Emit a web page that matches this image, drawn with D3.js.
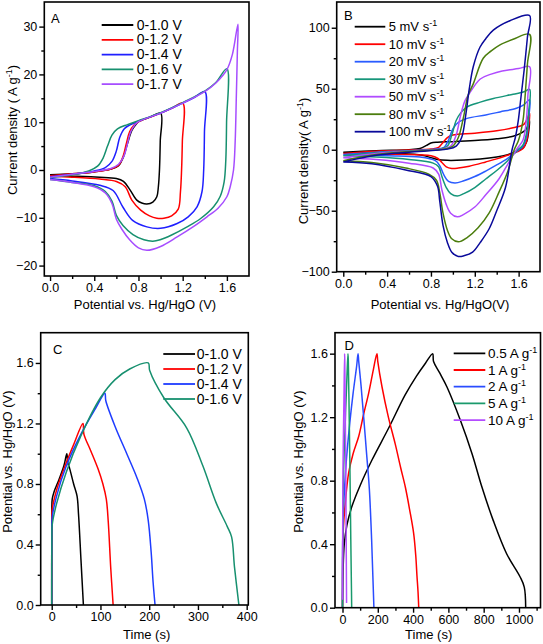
<!DOCTYPE html>
<html><head><meta charset="utf-8">
<script src="https://cdn.jsdelivr.net/npm/d3@7"></script>
<style>body{margin:0;background:#fff}svg{display:block}</style>
</head><body>
<svg id="chart" width="543" height="644"></svg>
<script>
// ---------------- DATA ----------------
// Panel A: CV curves at different potential windows (V, A g-1)
const aLabels = ["0-1.0 V","0-1.2 V","0-1.4 V","0-1.6 V","0-1.7 V"];
const aXTicks = [0,0.4,0.8,1.2,1.6];
const aYTicks = [-20,-10,0,10,20,30];
const cvA10 = [[0,-1.0],[0.2,-0.8],[0.4,-0.4],[0.55,0.2],[0.62,0.9],[0.66,2.5],[0.7,5.5],[0.74,8.3],[0.78,9.6],[0.8,10.1],[0.9,11],[1.0,11.9],
  [0.997,6],[0.99,0],[0.98,-3.5],[0.966,-5.6],[0.93,-6.7],[0.876,-7.1],[0.83,-6.9],[0.785,-6.3],[0.725,-4.2],[0.664,-2.4],[0.6,-1.8],[0.45,-1.5],[0.2,-1.3],[0,-1.2]];
const cvA12 = [[0,-1.2],[0.2,-0.8],[0.4,-0.4],[0.55,0.2],[0.62,1.0],[0.66,2.8],[0.69,5.5],[0.72,8],[0.76,9.4],[0.8,10.1],[0.9,11],[1.0,11.9],[1.1,12.9],[1.2,14],
  [1.197,6],[1.19,0],[1.18,-4.5],[1.16,-8.2],[1.1,-9.6],[1.03,-10.1],[0.966,-10.1],[0.9,-9.6],[0.82,-8.4],[0.74,-6.3],[0.68,-3.5],[0.6,-2.4],[0.45,-1.9],[0.2,-1.5],[0,-1.3]];
const cvA14 = [[0,-1.4],[0.2,-0.9],[0.4,-0.2],[0.5,0.5],[0.56,1.8],[0.6,4],[0.63,6.8],[0.67,8.6],[0.72,9.4],[0.8,10.2],[1.0,11.9],[1.2,14],[1.3,15.1],[1.4,16.4],
  [1.397,8],[1.39,0],[1.375,-4.5],[1.33,-7.7],[1.25,-9.8],[1.15,-11.2],[1.0,-12.2],[0.876,-11.9],[0.75,-10.6],[0.66,-7.8],[0.57,-4.3],[0.45,-3.2],[0.2,-2.3],[0,-1.8]];
const cvA16 = [[0,-1.6],[0.2,-1.0],[0.35,-0.2],[0.43,0.8],[0.48,2.5],[0.52,5],[0.56,7.3],[0.61,8.6],[0.7,9.5],[0.8,10.3],[1.0,12],[1.2,14.1],[1.4,16.5],[1.5,18.3],[1.6,21.2],
  [1.597,10],[1.59,2],[1.575,-2.5],[1.54,-5.5],[1.48,-7.7],[1.36,-10.2],[1.24,-11.9],[1.1,-13.6],[0.996,-14.6],[0.93,-14.9],[0.85,-14.6],[0.75,-13.5],[0.66,-11.6],[0.6,-9.5],[0.56,-6.5],[0.5,-4.5],[0.4,-3.3],[0.2,-2.6],[0,-2.0]];
const cvA17 = [[0,-1.5],[0.2,-0.9],[0.4,-0.3],[0.55,0.3],[0.62,1.2],[0.67,3],[0.7,5.5],[0.73,8],[0.77,9.5],[0.8,10.1],[1.0,11.9],[1.2,14],[1.4,16.4],[1.5,18.2],[1.6,21],[1.65,24.2],[1.7,30.5],
  [1.695,25],[1.685,15],[1.675,6],[1.66,0],[1.63,-3.5],[1.6,-5.6],[1.52,-8],[1.42,-9.8],[1.3,-11.8],[1.15,-14],[1.0,-16],[0.876,-16.8],[0.8,-16.3],[0.72,-14.6],[0.65,-12.4],[0.6,-10.3],[0.56,-7],[0.5,-4.8],[0.4,-3.5],[0.2,-2.6],[0,-2.0]];

// Panel B: CV curves at different scan rates
const bLabels = ["5 mV s","10 mV s","20 mV s","30 mV s","50 mV s","80 mV s","100 mV s"];
const bXTicks = [0,0.4,0.8,1.2,1.6];
const bYTicks = [-100,-50,0,50,100];
const cvB5 = [[0,-2],[0.3,-0.8],[0.6,0],[0.7,1],[0.76,3.5],[0.8,5.5],[0.86,6.2],[1.0,6.6],[1.2,7.5],[1.4,9],[1.55,11],[1.63,14],[1.67,17],[1.7,24],
  [1.69,14],[1.675,7],[1.64,1.5],[1.58,-1.5],[1.5,-4],[1.4,-6],[1.25,-7.7],[1.1,-8.5],[0.95,-8.7],[0.86,-8],[0.8,-6.5],[0.72,-4.5],[0.5,-3],[0.2,-2.3],[0,-2]];
const cvB10 = [[0,-3],[0.3,-1.2],[0.6,-0.3],[0.8,0.5],[0.87,2],[0.91,6],[0.95,10],[1.0,12],[1.2,13.5],[1.4,15.5],[1.55,18],[1.65,21],[1.7,30],
  [1.69,18],[1.675,8],[1.64,1],[1.58,-2],[1.5,-4.5],[1.4,-7.5],[1.3,-10],[1.15,-13.5],[1.05,-15],[0.99,-15.3],[0.94,-14],[0.9,-10.5],[0.86,-7],[0.8,-5],[0.5,-3.8],[0,-3]];
const cvB20 = [[0,-4],[0.3,-2],[0.6,-0.8],[0.85,0.5],[0.92,2],[0.96,8],[1.0,17],[1.05,22.5],[1.13,25.7],[1.3,28.5],[1.43,31],[1.58,34],[1.65,37],[1.7,41],
  [1.69,25],[1.675,12],[1.64,3],[1.58,-1.5],[1.5,-7],[1.4,-12.5],[1.3,-17.5],[1.2,-22],[1.1,-25.5],[1.02,-27.3],[0.96,-26],[0.92,-21],[0.88,-13],[0.84,-9],[0.7,-6],[0.4,-5],[0,-4]];
const cvB30 = [[0,-5],[0.3,-2.5],[0.6,-1],[0.88,0.5],[0.95,3],[0.99,12],[1.03,24],[1.07,30],[1.126,35],[1.25,39],[1.37,42],[1.55,45.5],[1.65,47.5],[1.7,49.5],
  [1.69,30],[1.675,15],[1.64,4],[1.58,-1],[1.5,-9],[1.4,-17],[1.3,-24],[1.2,-31],[1.1,-36],[1.04,-38],[0.98,-36],[0.94,-31],[0.9,-22],[0.87,-14],[0.82,-11],[0.6,-8],[0.3,-6],[0,-5]];
const cvB50 = [[0,-6.5],[0.3,-3],[0.6,-1.2],[0.9,0.5],[0.98,3],[1.03,12],[1.07,28],[1.11,40],[1.15,46],[1.25,58],[1.35,62],[1.45,64.5],[1.6,66.5],[1.7,68],
  [1.685,45],[1.67,24],[1.64,8],[1.58,0],[1.5,-12],[1.42,-24],[1.3,-37],[1.2,-47],[1.1,-53],[1.04,-55],[0.98,-52],[0.94,-45],[0.9,-33],[0.87,-20],[0.82,-15],[0.6,-11],[0.3,-8],[0,-6.5]];
const cvB80 = [[0,-9],[0.3,-4],[0.6,-1.5],[0.92,0.5],[1.0,3],[1.05,10],[1.1,28],[1.14,45],[1.186,54],[1.277,75],[1.35,81],[1.43,86],[1.55,90.5],[1.7,94.6],
  [1.68,70],[1.66,45],[1.64,24],[1.6,8],[1.56,0],[1.5,-18],[1.42,-35],[1.33,-52],[1.23,-64],[1.13,-72],[1.05,-75.5],[0.99,-73],[0.95,-66],[0.91,-52],[0.88,-35],[0.85,-25],[0.78,-20],[0.57,-15],[0.26,-10.5],[0,-9]];
const cvB100 = [[0,-10],[0.3,-4.5],[0.6,-2],[0.95,0.5],[1.03,3],[1.08,10],[1.12,30],[1.15,50],[1.186,68],[1.247,84],[1.3,91],[1.369,98],[1.52,105.7],[1.7,110],
  [1.68,92],[1.65,65],[1.62,42],[1.597,24],[1.57,10],[1.54,0],[1.48,-31],[1.4,-50],[1.33,-65],[1.25,-76],[1.18,-84],[1.1,-87],[1.05,-87.5],[0.99,-84],[0.95,-76],[0.91,-62],[0.88,-42],[0.86,-30],[0.8,-22],[0.57,-16.6],[0.26,-11.5],[0,-10]];

// Panel C: GCD at different potential windows (s, V)
const cLabels = ["0-1.0 V","0-1.2 V","0-1.4 V","0-1.6 V"];
const cXTicks = [0,100,200,300,400];
const cYTicks = [0,0.4,0.8,1.2,1.6];
const gcdC10 = [[0,0],[0.3,0.6],[1,0.7],[5,0.75],[15,0.83],[25,0.92],[31,1.0],[33,0.94],[37,0.9],[45,0.8],[52,0.72],[55,0.6],[60,0.3],[65,0]];
const gcdC12 = [[0,0],[0.3,0.55],[1,0.63],[10,0.76],[25,0.9],[45,1.06],[64,1.2],[66,1.13],[80,1.02],[95,0.9],[105,0.8],[112,0.7],[116,0.55],[121,0.25],[126,0]];
const gcdC14 = [[0,0],[0.3,0.5],[1,0.58],[10,0.72],[30,0.92],[60,1.13],[90,1.3],[109,1.4],[111,1.35],[130,1.18],[154,1.0],[175,0.84],[190,0.7],[198,0.56],[204,0.35],[208,0.15],[212,0]];
const gcdC16 = [[0,0],[0.3,0.45],[1,0.53],[10,0.67],[30,0.88],[60,1.12],[100,1.37],[130,1.49],[160,1.56],[198,1.6],[201,1.55],[230,1.37],[277,1.17],[310,0.92],[338,0.67],[360,0.52],[369,0.45],[375,0.25],[384,0]];

// Panel D: GCD at different current densities
const dLabels = ["0.5 A g","1 A g","2 A g","5 A g","10 A g"];
const dXTicks = [0,200,400,600,800,1000];
const dYTicks = [0,0.4,0.8,1.2,1.6];
const gcdD05 = [[0,0],[3,0.22],[10,0.4],[25,0.52],[54,0.64],[100,0.77],[167,0.93],[261,1.13],[355,1.34],[420,1.46],[470,1.54],[511,1.6],
  [516,1.55],[550,1.48],[592,1.39],[668,1.18],[734,0.97],[790,0.76],[854,0.55],[930,0.34],[1006,0.195],[1030,0.13],[1038,0]];
const gcdD1 = [[0,0],[1,0.3],[5,0.5],[15,0.65],[35,0.85],[60,0.97],[92,1.08],[120,1.22],[148,1.35],[175,1.5],[195,1.6],[200,1.55],[224,1.39],[260,1.2],[299,1.03],[330,0.88],[356,0.76],[380,0.62],[403,0.47],[415,0.33],[422,0.2],[428,0.1],[432,0]];
const gcdD2 = [[0,0],[1,0.4],[5,0.6],[20,0.9],[40,1.15],[60,1.35],[80,1.52],[88,1.6],[92,1.55],[105,1.4],[120,1.2],[138,0.95],[152,0.75],[165,0.43],[172,0.2],[178,0]];
const gcdD5 = [[0,0],[0.5,0.3],[5,0.8],[15,1.15],[25,1.45],[31,1.6],[33,1.55],[38,1.2],[43,0.8],[47,0.43],[51,0.1],[52,0]];
const gcdD10 = [[0,0.05],[1,0.5],[3,0.9],[8,1.3],[12,1.6],[13,1.55],[16,1.2],[19,0.8],[21,0.43],[23,0.03]];

// ---------------- DRAWING ----------------
const FONT = "'Liberation Sans', Arial, Helvetica, sans-serif";
const svg = d3.select("#chart").style("font-family", FONT);
let clipId = 0;

function drawPanel(p) {
  const g = svg.append("g");
  const x = d3.scaleLinear().domain(p.xDomain).range([p.left, p.right]);
  const y = d3.scaleLinear().domain(p.yDomain).range([p.bottom, p.top]);
  const id = "clip" + (clipId++);
  g.append("clipPath").attr("id", id).append("rect")
    .attr("x", p.left).attr("y", p.top).attr("width", p.right - p.left).attr("height", p.bottom - p.top);
  const line = d3.line().x(d => x(d[0])).y(d => y(d[1])).curve(d3.curveCatmullRom.alpha(0.5));
  const cg = g.append("g").attr("clip-path", `url(#${id})`);
  p.series.forEach((s, i) => {
    cg.append("path").attr("d", line(s)).attr("fill", "none")
      .attr("stroke", p.colors[i]).attr("stroke-width", 1.5).attr("stroke-linejoin", "round");
  });
  // frame
  g.append("rect").attr("x", p.left).attr("y", p.top).attr("width", p.right - p.left)
    .attr("height", p.bottom - p.top).attr("fill", "none").attr("stroke", "#000").attr("stroke-width", 1.6);
  // axes
  const styleAxis = sel => {
    sel.select(".domain").remove();
    sel.selectAll("line").attr("stroke", "#000").attr("stroke-width", 1.4);
    sel.selectAll("text").attr("font-size", 12.5).attr("fill", "#000").attr("font-family", FONT);
  };
  g.append("g").attr("transform", `translate(0,${p.bottom})`)
    .call(d3.axisBottom(x).tickValues(p.xTicks).tickFormat(p.xFmt).tickSize(5).tickPadding(2)).call(styleAxis);
  g.append("g").attr("transform", `translate(0,${p.bottom})`)
    .call(d3.axisBottom(x).tickValues(p.xMinor).tickFormat("").tickSize(3)).call(styleAxis);
  g.append("g").attr("transform", `translate(${p.left},0)`)
    .call(d3.axisLeft(y).tickValues(p.yTicks).tickFormat(p.yFmt).tickSize(5).tickPadding(2)).call(styleAxis);
  g.append("g").attr("transform", `translate(${p.left},0)`)
    .call(d3.axisLeft(y).tickValues(p.yMinor).tickFormat("").tickSize(3)).call(styleAxis);
  // titles
  g.append("text").attr("x", p.xTitlePos[0]).attr("y", p.xTitlePos[1])
    .attr("text-anchor", "middle").attr("font-size", 13).text(p.xTitle);
  const yt = g.append("text").attr("transform", `translate(${p.yTitlePos[0]},${p.yTitlePos[1]}) rotate(-90)`)
    .attr("text-anchor", "middle").attr("font-size", 13);
  yt.append("tspan").text(p.yTitle[0]);
  if (p.yTitle[1]) {
    yt.append("tspan").attr("dy", -5).attr("font-size", 9).text(p.yTitle[1]);
    yt.append("tspan").attr("dy", 5).text(p.yTitle[2]);
  }
  // panel letter
  g.append("text").attr("x", p.letterPos[0]).attr("y", p.letterPos[1]).attr("font-size", 13).text(p.letter);
  // legend
  const L = p.legend;
  p.labels.forEach((lab, i) => {
    const yy = L.y0 + i * L.dy;
    g.append("line").attr("x1", L.x1).attr("x2", L.x2).attr("y1", yy).attr("y2", yy)
      .attr("stroke", p.colors[i]).attr("stroke-width", 1.8);
    const t = g.append("text").attr("x", L.tx).attr("y", yy + 4.6).attr("font-size", L.fs);
    t.append("tspan").text(lab);
    if (L.sup) t.append("tspan").attr("dy", -5).attr("font-size", 9).text("-1");
  });
}

const f1 = d3.format(".1f");
drawPanel({
  left: 44.3, right: 249, top: 2, bottom: 276,
  xDomain: [-0.052, 1.8], yDomain: [-22.18, 35.15],
  series: [cvA10, cvA12, cvA14, cvA16, cvA17],
  colors: ["#000000", "#ff0000", "#1f1fff", "#17906f", "#a64dff"],
  labels: aLabels,
  xTicks: aXTicks, xMinor: [0.2, 0.6, 1.0, 1.4], xFmt: f1,
  yTicks: aYTicks, yMinor: [-15, -5, 5, 15, 25], yFmt: d3.format("d"),
  xTitle: "Potential vs. Hg/HgO (V)", xTitlePos: [145, 309],
  yTitle: ["Current density ( A g", "-1", ")"], yTitlePos: [17, 130],
  letter: "A", letterPos: [51, 23],
  legend: { x1: 101.7, x2: 133.3, tx: 136.7, y0: 25, dy: 14.8, fs: 14, sup: false }
});
drawPanel({
  left: 336.7, right: 540, top: 2, bottom: 271.7,
  xDomain: [-0.06, 1.795], yDomain: [-100, 121.1],
  series: [cvB5, cvB10, cvB20, cvB30, cvB50, cvB80, cvB100],
  colors: ["#000000", "#ff0000", "#2a5cff", "#16967a", "#b04cff", "#4b7d0d", "#0a0a9a"],
  labels: bLabels,
  xTicks: bXTicks, xMinor: [0.2, 0.6, 1.0, 1.4], xFmt: f1,
  yTicks: bYTicks, yMinor: [-75, -25, 25, 75], yFmt: d3.format("d"),
  xTitle: "Potential vs. Hg/HgO(V)", xTitlePos: [440, 309],
  yTitle: ["Current density( A g", "-1", ")"], yTitlePos: [308, 161],
  letter: "B", letterPos: [344, 20],
  legend: { x1: 354.7, x2: 385.3, tx: 388.7, y0: 26.7, dy: 17.5, fs: 13, sup: true }
});
drawPanel({
  left: 40.7, right: 248.3, top: 332.7, bottom: 605,
  xDomain: [-22.6, 403.3], yDomain: [0, 1.8],
  series: [gcdC10, gcdC12, gcdC14, gcdC16],
  colors: ["#000000", "#ff0000", "#1e3cff", "#17906f"],
  labels: cLabels,
  xTicks: cXTicks, xMinor: [50, 150, 250, 350], xFmt: d3.format("d"),
  yTicks: cYTicks, yMinor: [0.2, 0.6, 1.0, 1.4], yFmt: f1,
  xTitle: "Time (s)", xTitlePos: [146.7, 639],
  yTitle: ["Potential vs. Hg/HgO (V)"], yTitlePos: [12, 461.7],
  letter: "C", letterPos: [53, 354],
  legend: { x1: 163.3, x2: 195, tx: 196.7, y0: 354, dy: 15, fs: 14, sup: false }
});
drawPanel({
  left: 335, right: 540.5, top: 332.7, bottom: 607.7,
  xDomain: [-42.5, 1122], yDomain: [0, 1.732],
  series: [gcdD05, gcdD1, gcdD2, gcdD5, gcdD10],
  colors: ["#000000", "#ff0000", "#2a4cff", "#1a9a6c", "#b44cff"],
  labels: dLabels,
  xTicks: dXTicks, xMinor: [100, 300, 500, 700, 900, 1100], xFmt: d3.format("d"),
  yTicks: dYTicks, yMinor: [0.2, 0.6, 1.0, 1.4], yFmt: f1,
  xTitle: "Time (s)", xTitlePos: [428.7, 639],
  yTitle: ["Potential vs. Hg/HgO (V)"], yTitlePos: [302.5, 461.7],
  letter: "D", letterPos: [344.5, 350],
  legend: { x1: 453.7, x2: 485.3, tx: 488, y0: 353.3, dy: 16.7, fs: 13.5, sup: true }
});
</script>
</body></html>
